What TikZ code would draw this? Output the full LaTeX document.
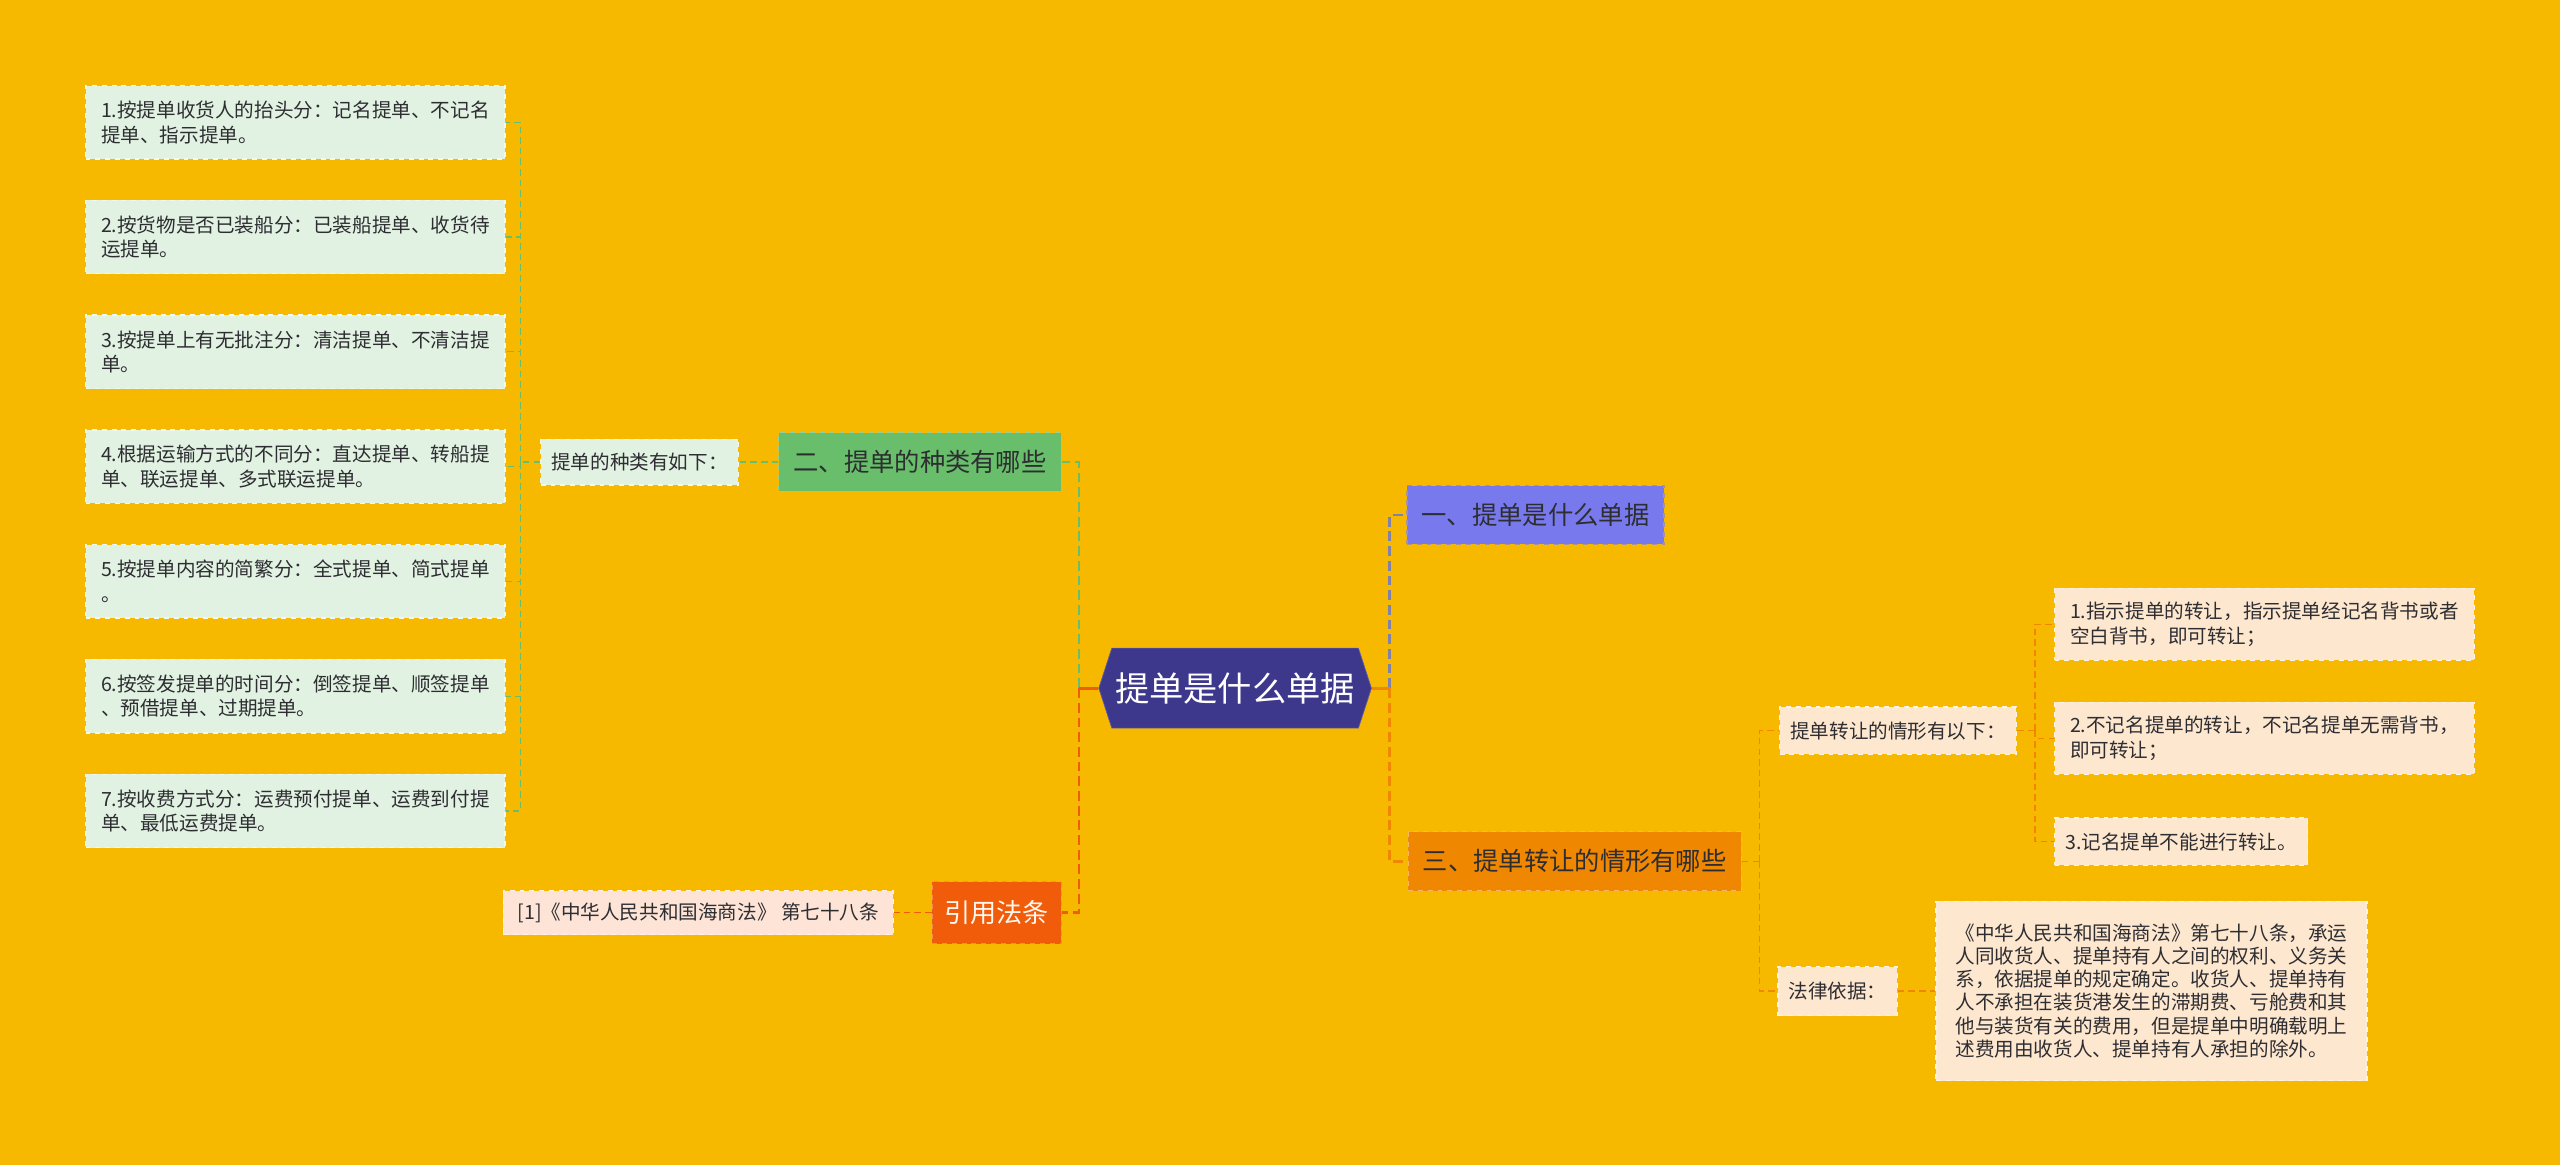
\documentclass[tikz,border=0pt]{standalone}
\usepackage{fontspec}
\setmainfont{Noto Sans CJK SC}
\usepackage{tikz}
\usetikzlibrary{positioning, shapes.symbols}

\definecolor{bgyellow}{RGB}{247,185,0}
\definecolor{rootpurple}{RGB}{62,56,140}
\definecolor{kindgreen}{RGB}{104,190,106}
\definecolor{leafgreen}{RGB}{226,242,226}
\definecolor{whatblue}{RGB}{121,121,238}
\definecolor{linkgray}{RGB}{128,128,168}
\definecolor{transorange}{RGB}{240,135,0}
\definecolor{lawred}{RGB}{240,92,10}
\definecolor{peach}{RGB}{253,231,207}
\definecolor{citepink}{RGB}{253,228,214}
\definecolor{darktext}{RGB}{45,45,50}

\begin{document}
\begin{tikzpicture}[x=1pt, y=1pt,
  root/.style={signal, signal to=west and east, signal pointer angle=144,
               fill=rootpurple, draw=rootpurple!80!white, minimum width=167pt,
               minimum height=49pt, inner sep=0pt, text=white,
               font=\fontsize{21}{25}\selectfont},
  branch/.style={rectangle, dashed, line width=0.8pt, minimum height=36pt,
                 inner xsep=9pt, text=darktext, font=\fontsize{15.5}{18}\selectfont},
  sub/.style={rectangle, dashed, line width=0.8pt, minimum height=28pt,
              inner xsep=6.5pt, text=darktext, font=\fontsize{12}{15}\selectfont},
  leaf/.style={sub, align=left, minimum width=257pt, minimum height=45pt},
  mainlink/.style={line width=1.6pt, dash pattern=on 6pt off 3pt},
  sublink/.style={line width=0.7pt, dash pattern=on 4pt off 2.5pt},
  stub/.style={line width=1.8pt}
]
\useasboundingbox (0,0) rectangle (1568,713);
\fill[bgyellow] (-2,-2) rectangle (1570,715);

\node[root] (root) at (756.5,291.5) {提单是什么单据};

\node[branch, fill=kindgreen, draw=kindgreen!70!white] (b2) at (563.5,430) {二、提单的种类有哪些};
\node[branch, fill=whatblue, draw=whatblue!60!bgyellow] (b1) at (940.5,397.5) {一、提单是什么单据};
\node[branch, fill=transorange, draw=transorange!60!white] (b3) at (964.5,185.5) {三、提单转让的情形有哪些};
\node[branch, fill=lawred, draw=lawred!70!white, text=white!94!orange,
      font=\fontsize{16}{19}\selectfont, inner xsep=7.5pt, minimum height=38pt] (law) at (610.5,154) {引用法条};

\node[sub, fill=leafgreen, draw=leafgreen!50!white, left=24pt of b2] (kinds) {提单的种类有如下：};
\node[sub, fill=citepink, draw=citepink!50!white, minimum width=239pt, minimum height=27pt,
      left=23pt of law] (cite) {[1]《中华人民共和国海商法》 第七十八条};

\node[leaf, fill=leafgreen, draw=leafgreen!50!white, anchor=north west] (k1) at (52,661)
  {1.按提单收货人的抬头分：记名提单、不记名\\提单、指示提单。};
\node[leaf, fill=leafgreen, draw=leafgreen!50!white, below=24.5pt of k1] (k2)
  {2.按货物是否已装船分：已装船提单、收货待\\运提单。};
\node[leaf, fill=leafgreen, draw=leafgreen!50!white, below=24.5pt of k2] (k3)
  {3.按提单上有无批注分：清洁提单、不清洁提\\单。};
\node[leaf, fill=leafgreen, draw=leafgreen!50!white, below=24.5pt of k3] (k4)
  {4.根据运输方式的不同分：直达提单、转船提\\单、联运提单、多式联运提单。};
\node[leaf, fill=leafgreen, draw=leafgreen!50!white, below=24.5pt of k4] (k5)
  {5.按提单内容的简繁分：全式提单、简式提单\\。};
\node[leaf, fill=leafgreen, draw=leafgreen!50!white, below=24.5pt of k5] (k6)
  {6.按签发提单的时间分：倒签提单、顺签提单\\、预借提单、过期提单。};
\node[leaf, fill=leafgreen, draw=leafgreen!50!white, below=24.5pt of k6] (k7)
  {7.按收费方式分：运费预付提单、运费到付提\\单、最低运费提单。};

\node[sub, fill=peach, draw=peach!50!white, minimum height=29pt] (trans) at (1162.5,265.5) {提单转让的情形有以下：};
\node[sub, fill=peach, draw=peach!50!white, minimum height=30pt] (basis) at (1125.5,106) {法律依据：};
\node[sub, fill=peach, draw=peach!50!white, align=left, minimum width=264pt, minimum height=110pt,
      font=\fontsize{12}{14.1}\selectfont, right=23pt of basis] (legal)
  {《中华人民共和国海商法》第七十八条，承运\\人同收货人、提单持有人之间的权利、义务关\\系，依据提单的规定确定。收货人、提单持有\\人不承担在装货港发生的滞期费、亏舱费和其\\他与装货有关的费用，但是提单中明确载明上\\述费用由收货人、提单持有人承担的除外。};

\node[leaf, fill=peach, draw=peach!50!white, minimum height=44pt, anchor=north west] (t1) at (1258,353)
  {1.指示提单的转让，指示提单经记名背书或者\\空白背书，即可转让；};
\node[leaf, fill=peach, draw=peach!50!white, minimum height=44pt, below=25pt of t1] (t2)
  {2.不记名提单的转让，不记名提单无需背书，\\即可转让；};
\node[sub, fill=peach, draw=peach!50!white, minimum height=29pt,
      below=26pt of t2.south west, anchor=north west] (t3) {3.记名提单不能进行转让。};

\coordinate (rootL) at ([xshift=-12pt]root.west);
\coordinate (rootR) at ([xshift=11pt]root.east);
\coordinate (kindsL) at ([xshift=-12pt]kinds.west);
\coordinate (b3R) at ([xshift=11pt]b3.east);
\coordinate (transR) at ([xshift=11pt]trans.east);

\draw[mainlink, kindgreen] (rootL) |- (b2.east);
\draw[mainlink, lawred] (rootL) |- (law.east);
\draw[mainlink, linkgray] (rootR) |- (b1.west);
\draw[mainlink, transorange] (rootR) |- (b3.west);
\draw[stub, lawred] (root.west) -- (rootL);
\draw[stub, transorange] (root.east) -- (rootR);

\draw[sublink, kindgreen] (b2.west) -- (kinds.east);
\draw[sublink, kindgreen] (kinds.west) -- (kindsL);
\foreach \k in {1,...,7}
  \draw[sublink, kindgreen] (kindsL) |- (k\k.east);
\draw[sublink, lawred] (law.west) -- (cite.east);

\draw[sublink, transorange] (b3.east) -- (b3R);
\draw[sublink, transorange] (b3R) |- (trans.west);
\draw[sublink, transorange] (b3R) |- (basis.west);
\draw[sublink, transorange] (trans.east) -- (transR);
\foreach \t in {t1,t2,t3}
  \draw[sublink, transorange] (transR) |- (\t.west);
\draw[sublink, transorange] (basis.east) -- (legal.west);

\end{tikzpicture}
\end{document}
